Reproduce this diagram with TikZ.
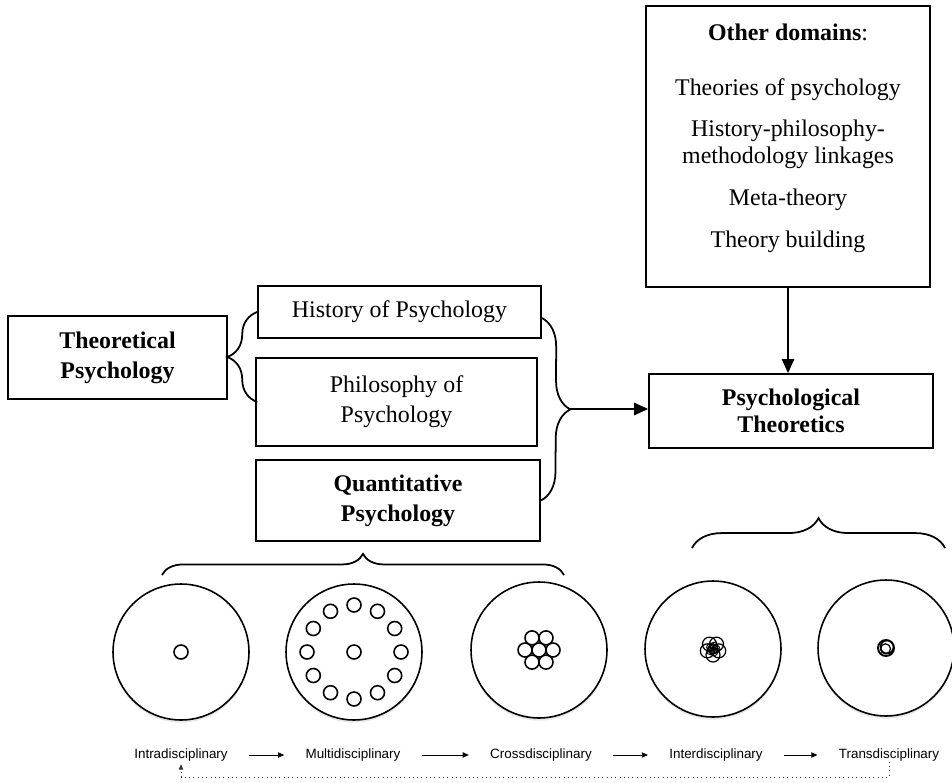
\documentclass[tikz,border=0pt]{standalone}
\usepackage{fontspec}
\setmainfont{Liberation Serif}
\newfontfamily\labfont{Liberation Sans}
\usetikzlibrary{arrows.meta,decorations.pathreplacing,shadows,calc}

\tikzset{
  box/.style={draw,line width=1pt,align=center,inner sep=0pt,font=\fontsize{13.6}{17}\selectfont},
  boldbox/.style={box,font=\fontsize{13.6}{17}\selectfont\bfseries},
  curly/.style={decorate,decoration={brace,amplitude=#1},line width=1pt},
  bigarrow/.style={line width=1pt,-{Triangle[length=8pt,width=7pt]}},
  disc/.style={circle,draw,line width=0.9pt,minimum size=2.72cm,inner sep=0pt,fill=white,
    drop shadow={shadow xshift=0pt,shadow yshift=-1.5pt,opacity=0.18}},
  ring/.style={line width=0.9pt},
  lab/.style={inner sep=0pt,font=\labfont\fontsize{7.65}{9}\selectfont},
  flow/.style={line width=0.5pt,-{Triangle[length=3.5pt,width=3pt]},shorten <=0.42cm,shorten >=0.42cm},
  back/.style={dotted,line width=0.45pt,black!80,-{Triangle[length=3pt,width=2.5pt]},shorten >=1.5pt}
}

\begin{document}
\begin{tikzpicture}[x=0.02cm,y=-0.02cm]
\useasboundingbox (0,0) rectangle (952,783);

\node[boldbox,minimum width=4.38cm,minimum height=1.66cm] (theo) at (117.5,357.5) {Theoretical\\Psychology};
\node[box,minimum width=5.66cm,minimum height=1.04cm] (hist) at (399.5,312) {History of Psychology};
\node[box,minimum width=5.62cm,minimum height=1.76cm] (philo) at (396.5,402) {Philosophy of\\Psychology};
\node[boldbox,minimum width=5.68cm,minimum height=1.62cm] (quant) at (398,500.5) {Quantitative\\Psychology};
\node[boldbox,font=\fontsize{13.6}{15.3}\selectfont\bfseries,minimum width=5.68cm,minimum height=1.48cm] (theoretics) at (791,411) {Psychological\\Theoretics};
\node[draw,line width=1pt,minimum width=5.68cm,minimum height=5.62cm] (otherbox) at (788,146.5) {};
\node[align=center,inner sep=0pt,font=\fontsize{13.6}{15.3}\selectfont,anchor=north] (othertext) at ([yshift=-0.36cm]otherbox.north)
  {\textbf{Other domains}:\\[16pt] Theories of psychology\\[8.5pt] History-philosophy-\\ methodology linkages\\[8.5pt] Meta-theory\\[8.5pt] Theory building};

\draw[curly=17pt] (hist.west |- philo.west) -- (hist.west);
\draw[curly=16.5pt] ([yshift=-0.12cm]hist.east) -- (quant.east);
\coordinate (tipR) at (570,409);
\draw[bigarrow] (tipR) -- (tipR -| theoretics.west);
\draw[bigarrow] (otherbox.south) -- (otherbox.south |- theoretics.north);

\coordinate (qa) at (162,575);
\coordinate (qb) at (564,575);
\draw[curly=12pt] (qa) -- (qb);
\coordinate (ta) at (692,548);
\coordinate (tb) at (945,548);
\draw[curly=17pt] (ta) -- (tb);

\foreach \n/\x/\y in {1/181/652,2/354/652,3/539/650,4/713/649,5/886/648}
  \node[disc] (c\n) at (\x,\y) {};

\draw[ring] (c1.center) circle[radius=7];
\draw[ring] (c2.center) circle[radius=7];
\foreach \a in {0,30,...,330}
  \draw[ring] (c2.center) ++(\a:47) circle[radius=7];
\draw[ring] (c3.center) circle[radius=7];
\foreach \a in {0,60,...,300}
  \draw[ring] (c3.center) ++(\a:14) circle[radius=7];
\foreach \a in {90,162,...,378}
  \draw[line width=0.7pt] (c4.center) ++(\a:6) circle[radius=7];
\foreach \a in {0,72,...,288}
  \draw[line width=0.5pt] (c4.center) ++(\a:3) circle[radius=4];
\draw[ring] (c4.center) circle[radius=5];
\draw[line width=1.1pt] (c5.center) circle[radius=8];
\draw[line width=0.9pt] ($(c5.center)+(1,-1)$) circle[radius=6.5];
\draw[line width=0.7pt] ($(c5.center)+(-0.5,0.8)$) circle[radius=5];

\node[lab] (intra) at (181,755) {Intradisciplinary};
\node[lab] (multi) at (353,755) {Multidisciplinary};
\node[lab] (cross) at (541,755) {Crossdisciplinary};
\node[lab] (inter) at (716,755) {Interdisciplinary};
\node[lab] (trans) at (889,755) {Transdisciplinary};
\draw[flow] (intra) -- (multi);
\draw[flow] (multi) -- (cross);
\draw[flow] (cross) -- (inter);
\draw[flow] (inter) -- (trans);
\coordinate (fb) at (0,777);
\draw[back] (trans.south) -- (trans.south |- fb) -| (intra.south);
\end{tikzpicture}
\end{document}
